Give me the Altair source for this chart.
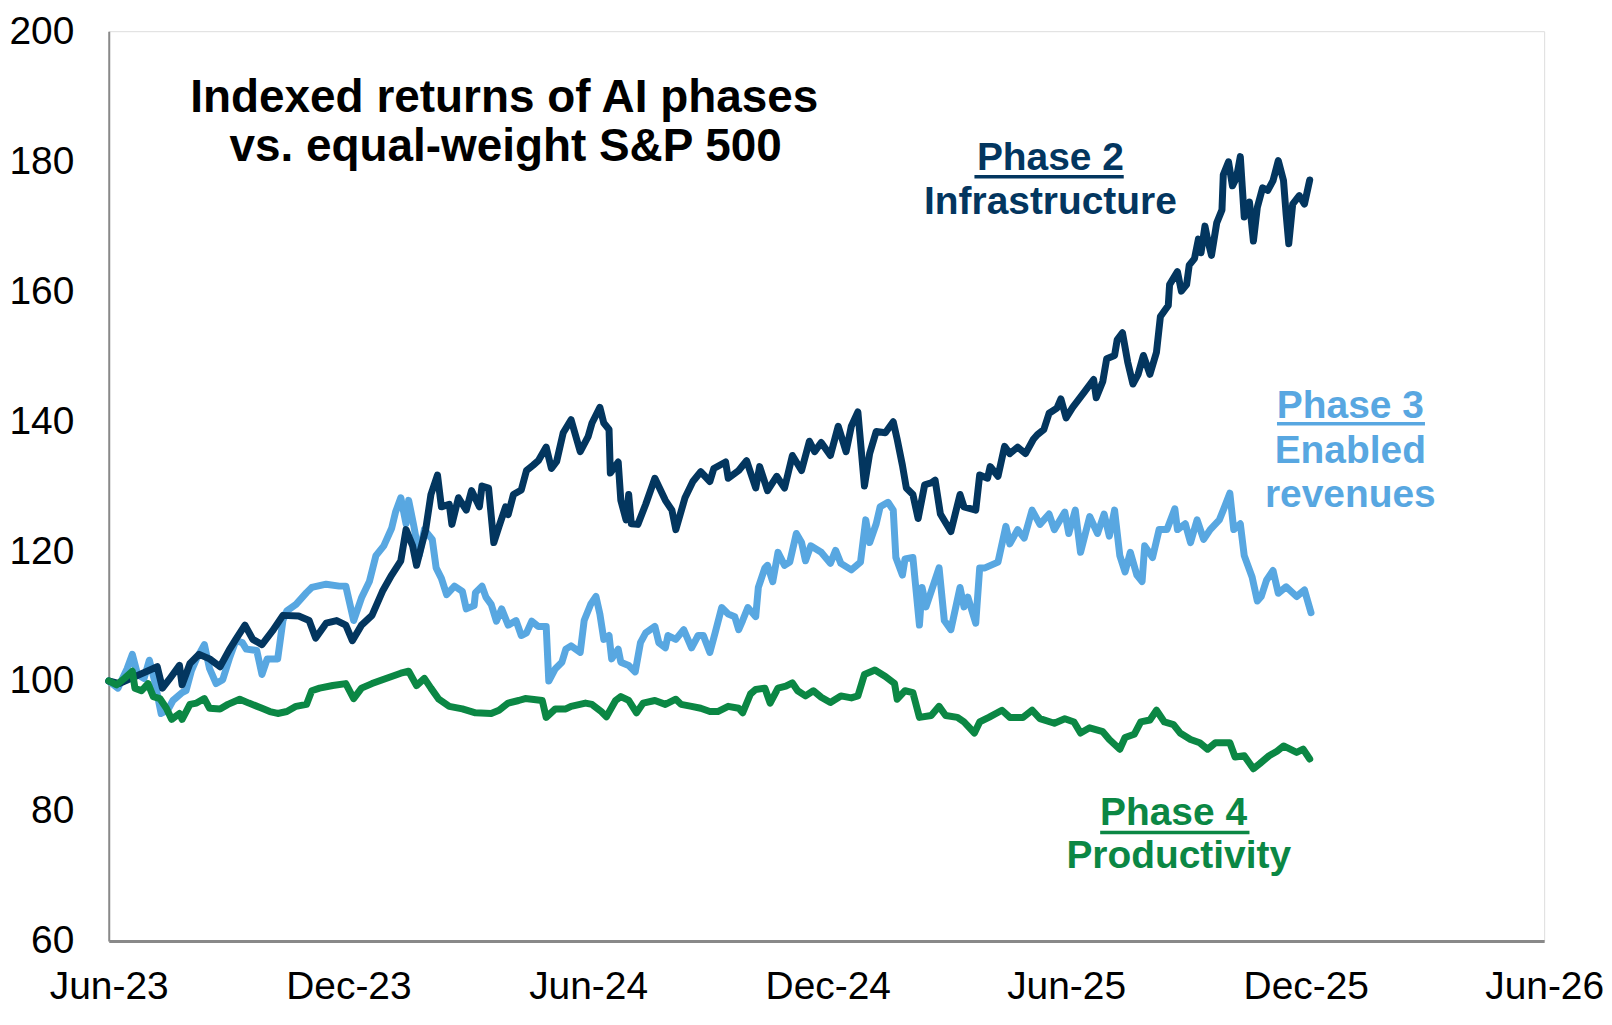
import altair as alt
import pandas as pd

START = "2023-06-01"
SERIES = ["Phase 2", "Phase 3", "Phase 4"]
COLORS = ["#03365f", "#58a7e1", "#0b8744"]

# Phase 2 - Infrastructure (days since 1 Jun 2023, index level)
P2_DAYS = [0, 8, 37, 41, 46, 54, 56, 62, 69, 77, 85, 92, 97, 104, 110, 117, 125, 133, 145, 153,
           158, 166, 174, 181, 186, 193, 201, 209, 216, 223, 227, 232, 235, 242, 246, 251, 254, 260, 262, 267,
           273, 277, 283, 285, 290, 294, 298, 303, 305, 309, 315, 319, 324, 328, 334, 338, 342, 347, 353, 360,
           366, 369, 375, 378, 382, 383, 389, 391, 395, 397, 399, 404, 410, 417, 425, 430, 433, 440, 446, 452,
           459, 462, 471, 473, 481, 487, 494, 497, 503, 510, 516, 522, 529, 535, 539, 544, 551, 557, 563, 567,
           572, 577, 581, 586, 593, 599, 602, 606, 609, 614, 618, 623, 628, 631, 635, 643, 650, 653, 662, 665,
           671, 673, 679, 684, 688, 694, 700, 706, 709, 714, 718, 724, 727, 731, 736, 745, 752, 754, 759, 762,
           768, 770, 774, 778, 782, 786, 790, 795, 800, 803, 809, 810, 816, 819, 823, 825, 829, 832, 834, 837,
           839, 842, 846, 850, 851, 855, 858, 861, 864, 867, 871, 874, 877, 881, 885, 889, 893, 897, 899, 901,
           904, 909, 913, 917]
P2_VALS = [100.0, 99.6, 102.2, 98.9, 100.2, 102.4, 99.4, 102.7, 104.1, 103.4, 102.2, 104.8, 106.4, 108.6, 106.4, 105.6, 107.7, 110.1, 110.0, 109.3,
           106.6, 108.9, 109.3, 108.6, 106.2, 108.6, 110.1, 113.8, 116.3, 118.5, 123.3, 120.8, 117.8, 123.3, 128.7, 131.7, 126.8, 127.2, 124.1, 128.2,
           126.3, 129.3, 126.8, 130.0, 129.7, 121.3, 123.8, 126.8, 125.6, 128.7, 129.4, 132.4, 133.2, 133.9, 136.0, 132.7, 133.8, 138.2, 140.2, 135.3,
           137.6, 139.7, 142.1, 139.7, 138.7, 132.0, 133.7, 127.8, 124.8, 128.7, 124.2, 124.1, 127.2, 131.2, 127.8, 126.3, 123.3, 128.2, 130.7, 132.2,
           130.7, 132.7, 133.7, 131.2, 132.4, 133.9, 129.7, 133.0, 129.3, 131.5, 129.7, 134.7, 132.4, 136.9, 135.3, 136.7, 134.7, 139.2, 135.3, 139.2,
           141.4, 130.0, 135.0, 138.4, 138.2, 139.9, 137.2, 133.2, 129.7, 128.7, 125.0, 130.2, 130.5, 130.9, 125.7, 123.0, 128.7, 126.8, 126.3, 131.7,
           131.2, 133.0, 131.5, 136.1, 135.0, 136.0, 135.0, 137.2, 137.9, 138.7, 141.2, 142.0, 143.4, 140.5, 142.1, 144.5, 146.4, 143.6, 146.1, 149.6,
           150.1, 152.5, 153.6, 149.1, 145.7, 147.2, 150.1, 147.2, 150.6, 156.1, 157.8, 161.0, 163.0, 160.0, 161.0, 164.0, 165.0, 168.0, 165.9, 170.0,
           168.0, 165.5, 170.5, 172.5, 177.9, 179.9, 176.2, 177.4, 180.7, 171.4, 173.7, 167.7, 172.9, 175.9, 175.5, 177.0, 180.1, 177.0, 171.8, 167.3,
           173.4, 174.7, 173.4, 177.1]

# Phase 3 - Enabled revenues
P3_DAYS = [0, 7, 14, 18, 22, 27, 31, 35, 40, 45, 49, 56, 59, 63, 67, 73, 77, 82, 87, 92,
           97, 102, 105, 113, 117, 121, 129, 133, 136, 143, 151, 155, 166, 176, 181, 187, 193, 199, 204, 210,
           216, 219, 223, 227, 229, 233, 237, 241, 247, 250, 254, 258, 264, 270, 273, 279, 280, 285, 288, 292,
           296, 300, 305, 311, 315, 319, 323, 328, 334, 336, 341, 346, 349, 353, 360, 363, 368, 372, 375, 378,
           382, 384, 389, 391, 397, 402, 406, 410, 417, 420, 425, 427, 433, 439, 445, 450, 454, 459, 463, 468,
           473, 478, 481, 484, 488, 494, 496, 501, 503, 507, 511, 516, 520, 525, 529, 532, 536, 544, 551, 555,
           559, 567, 574, 578, 581, 586, 589, 595, 599, 601, 606, 608, 614, 619, 621, 624, 628, 634, 638, 643,
           650, 653, 656, 662, 665, 669, 679, 685, 688, 694, 699, 705, 711, 718, 722, 730, 733, 738, 742, 749,
           755, 760, 764, 768, 772, 776, 780, 785, 789, 791, 797, 802, 808, 814, 816, 822, 826, 831, 836, 841,
           848, 852, 856, 859, 864, 867, 873, 877, 880, 884, 889, 893, 899, 907, 913, 918]
P3_VALS = [100.0, 98.9, 101.9, 104.1, 101.0, 100.4, 103.2, 100.0, 95.0, 95.5, 97.0, 98.2, 98.5, 101.5, 103.4, 105.6, 101.9, 99.6, 100.2, 103.4,
           106.2, 105.9, 104.9, 104.7, 101.0, 103.4, 103.4, 109.3, 110.8, 111.8, 113.6, 114.4, 114.9, 114.6, 114.6, 109.3, 112.8, 115.3, 119.3, 120.8,
           123.5, 126.0, 128.2, 124.2, 127.8, 123.8, 119.3, 123.3, 121.8, 117.4, 115.8, 113.3, 114.6, 113.8, 111.1, 111.6, 113.6, 114.6, 112.9, 111.8,
           109.2, 111.1, 108.6, 109.3, 107.0, 107.4, 109.2, 108.4, 108.4, 100.0, 101.9, 102.9, 104.9, 105.4, 104.4, 109.3, 111.8, 113.0, 110.3, 106.4,
           107.0, 103.4, 104.9, 102.9, 102.4, 101.4, 105.9, 107.4, 108.4, 105.9, 105.1, 107.0, 106.4, 107.9, 105.1, 107.0, 107.0, 104.4, 107.4, 111.3,
           110.3, 109.9, 107.9, 109.3, 111.3, 109.9, 114.4, 117.4, 117.8, 115.3, 119.8, 117.8, 118.3, 122.7, 121.3, 118.5, 120.8, 119.8, 118.1, 120.1,
           118.1, 117.1, 118.3, 124.8, 121.3, 124.2, 126.8, 127.5, 126.3, 119.0, 116.3, 118.8, 119.0, 108.6, 114.4, 111.4, 113.8, 117.4, 109.3, 107.9,
           114.4, 111.4, 112.9, 108.9, 117.4, 117.4, 118.3, 123.8, 121.1, 123.3, 122.0, 126.3, 124.1, 125.7, 123.3, 126.0, 122.7, 126.3, 119.8, 125.3,
           122.7, 125.7, 122.3, 126.3, 119.3, 116.8, 119.8, 116.3, 115.3, 120.8, 119.0, 123.3, 123.3, 126.5, 123.3, 124.2, 121.3, 124.8, 121.8, 123.3,
           124.8, 126.8, 128.9, 123.3, 124.2, 119.3, 116.0, 112.3, 113.0, 115.5, 117.0, 113.5, 114.5, 113.0, 114.0, 110.5]

# Phase 4 - Productivity
P4_DAYS = [0, 6, 12, 18, 20, 25, 30, 34, 39, 44, 48, 54, 56, 62, 67, 73, 77, 85, 91, 100,
           107, 117, 123, 129, 136, 143, 151, 155, 161, 171, 181, 187, 193, 201, 209, 216, 223, 229, 235, 241,
           246, 252, 260, 270, 280, 292, 298, 305, 313, 318, 323, 331, 334, 341, 349, 353, 364, 369, 376, 380,
           387, 391, 397, 403, 408, 417, 425, 433, 437, 445, 452, 459, 465, 473, 481, 484, 490, 494, 501, 505,
           511, 517, 522, 526, 532, 538, 544, 551, 559, 567, 572, 577, 585, 593, 600, 602, 608, 614, 619, 628,
           634, 639, 648, 653, 661, 665, 672, 682, 688, 698, 705, 711, 722, 730, 737, 742, 749, 759, 764, 772,
           776, 783, 788, 795, 800, 806, 813, 818, 826, 833, 839, 845, 856, 860, 867, 874, 879, 886, 892, 897,
           902, 907, 912, 917]
P4_VALS = [100.0, 99.4, 100.4, 101.5, 98.9, 98.5, 99.6, 97.6, 97.3, 95.8, 94.1, 95.0, 94.1, 96.4, 96.6, 97.3, 95.8, 95.7, 96.4, 97.2,
           96.6, 95.8, 95.3, 95.0, 95.3, 96.1, 96.4, 98.5, 98.9, 99.3, 99.6, 97.3, 98.9, 99.6, 100.2, 100.7, 101.2, 101.5, 99.3, 100.4,
           98.9, 97.2, 96.1, 95.7, 95.1, 95.0, 95.5, 96.6, 97.0, 97.3, 97.2, 97.0, 94.4, 95.7, 95.7, 96.1, 96.6, 96.4, 95.3, 94.5,
           97.0, 97.6, 97.0, 95.1, 96.6, 97.0, 96.4, 97.2, 96.4, 96.1, 95.8, 95.3, 95.3, 96.1, 95.8, 95.1, 98.0, 98.7, 98.9, 96.6,
           98.9, 99.2, 99.7, 98.5, 97.7, 98.5, 97.5, 96.7, 97.7, 97.4, 97.7, 101.0, 101.7, 100.7, 99.6, 97.2, 98.5, 98.2, 94.4, 94.7,
           96.1, 94.7, 94.4, 93.7, 92.0, 93.7, 94.4, 95.5, 94.4, 94.4, 95.5, 94.2, 93.5, 94.2, 93.7, 92.0, 92.8, 92.2, 91.0, 89.5,
           91.3, 91.8, 93.7, 94.0, 95.5, 93.7, 93.3, 92.0, 91.0, 90.5, 89.5, 90.5, 90.5, 88.3, 88.5, 86.5, 87.3, 88.5, 89.2, 90.0,
           89.5, 89.0, 89.5, 88.0]

# Axis ticks
X_TICKS = ["2023-06-01", "2023-12-01", "2024-06-01", "2024-12-01", "2025-06-01", "2025-12-01", "2026-06-01"]
Y_TICKS = [60, 80, 100, 120, 140, 160, 180, 200]

# Title and annotations (anchored in data space)
TITLE_LINES = ["Indexed returns of AI phases", "vs. equal-weight S&P 500"]
TITLE_DAYS = [302, 303]
TITLE_VALS = [187.6, 180.0]

LABEL_TEXT = ["Phase 2", "Infrastructure", "Phase 3", "Enabled", "revenues", "Phase 4", "Productivity"]
LABEL_SERIES = ["Phase 2", "Phase 2", "Phase 3", "Phase 3", "Phase 3", "Phase 4", "Phase 4"]
LABEL_DAYS = [719, 719, 948, 948, 948, 813, 817]
LABEL_VALS = [178.7, 171.9, 140.5, 133.5, 126.8, 77.9, 71.2]

UNDER_SERIES = ["Phase 2", "Phase 3", "Phase 4"]
UNDER_START = [661, 892, 757]
UNDER_END = [775, 1005, 871]
UNDER_VALS = [177.6, 139.6, 76.7]

base = pd.Timestamp(START)


def to_dates(days):
    return base + pd.to_timedelta(days, unit="D")


assert len(P2_DAYS) == len(P2_VALS)
assert len(P3_DAYS) == len(P3_VALS)
assert len(P4_DAYS) == len(P4_VALS)

frames = []
for name, d, v in [("Phase 2", P2_DAYS, P2_VALS), ("Phase 3", P3_DAYS, P3_VALS), ("Phase 4", P4_DAYS, P4_VALS)]:
    frames.append(pd.DataFrame({"date": to_dates(d), "value": v, "series": name}))
lines_df = pd.concat(frames, ignore_index=True)

title_df = pd.DataFrame({"text": TITLE_LINES, "date": to_dates(TITLE_DAYS), "value": TITLE_VALS})
label_df = pd.DataFrame({"text": LABEL_TEXT, "series": LABEL_SERIES, "date": to_dates(LABEL_DAYS), "value": LABEL_VALS})
under_df = pd.DataFrame({"series": UNDER_SERIES, "start": to_dates(UNDER_START), "end": to_dates(UNDER_END), "value": UNDER_VALS})

FONT = "Liberation Sans"
GRAY = "#898989"

x_scale = alt.Scale(domain=[alt.DateTime(year=2023, month=6, date=1), alt.DateTime(year=2026, month=6, date=1)])
y_scale = alt.Scale(domain=[60, 200], nice=False, zero=False)
color_scale = alt.Scale(domain=SERIES, range=COLORS)

x_axis = alt.Axis(
    values=[alt.DateTime(year=int(t[:4]), month=int(t[5:7]), date=1) for t in X_TICKS],
    format="%b-%y", title=None, grid=False, ticks=False, labelFont=FONT, labelFontSize=39,
    labelColor="#000000", labelPadding=27, labelFlush=False, labelOverlap=False, labelBound=False,
    domainColor=GRAY, domainWidth=3,
)
y_axis = alt.Axis(
    values=Y_TICKS, title=None, grid=False, ticks=False, labelFont=FONT, labelFontSize=39,
    labelColor="#000000", labelPadding=35, domainColor=GRAY, domainWidth=2,
)

X = alt.X("date:T", scale=x_scale, axis=x_axis)
Y = alt.Y("value:Q", scale=y_scale, axis=y_axis)
C = alt.Color("series:N", scale=color_scale, legend=None)


def line_layer(name, width):
    return alt.Chart(lines_df).transform_filter(alt.datum.series == name).mark_line(
        strokeWidth=width, strokeJoin="round", strokeCap="round"
    ).encode(x=X, y=Y, color=C)


layers = [
    line_layer("Phase 3", 7),
    line_layer("Phase 2", 7),
    line_layer("Phase 4", 7),
    alt.Chart(title_df).mark_text(font=FONT, fontWeight="bold", fontSize=46, align="center",
                                  baseline="alphabetic", color="#000000").encode(
        x=alt.X("date:T"), y=alt.Y("value:Q"), text="text:N"),
    alt.Chart(label_df).mark_text(font=FONT, fontWeight="bold", fontSize=39, align="center",
                                  baseline="alphabetic").encode(
        x=alt.X("date:T"), y=alt.Y("value:Q"), text="text:N", color=C),
    alt.Chart(under_df).mark_rule(strokeWidth=3.5).encode(
        x=alt.X("start:T"), x2="end:T", y=alt.Y("value:Q"), color=C),
]

chart = alt.layer(*layers).properties(
    width=1439, height=912,
    autosize=alt.AutoSizeParams(type="none"),
    padding={"left": 101, "top": 22, "right": 60, "bottom": 66},
).configure_view(stroke=GRAY, strokeWidth=2).configure(background="#ffffff")

chart.save("out.html", embed_options={"renderer": "svg", "actions": False})
